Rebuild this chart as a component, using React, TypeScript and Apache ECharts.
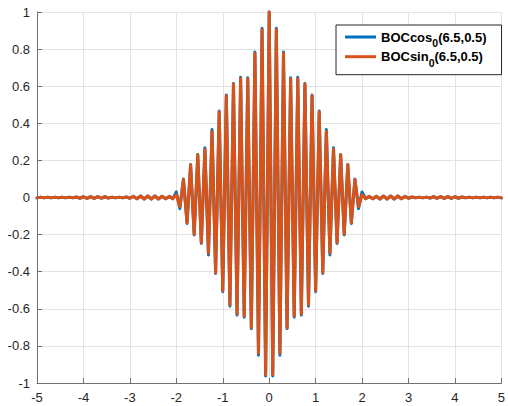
import React, { useEffect, useRef } from "react";
import * as echarts from "echarts";

// x (lag, chips) and y (normalised correlation) tick values
const xTickMin = -5;
const xTickMax = 5;
const xTickStep = 1;
const yTickMin = -1;
const yTickMax = 1;
const yTickStep = 0.2;

// spacing between successive extrema of the correlation (half a sub-carrier period)
const halfPeriod = 1 / 13;

// extrema of the main lobe, from lag 0 outward (peak, trough, peak, ...)
const cosMain = [
  1.0, -0.962, 0.912, -0.85, 0.785, -0.708, 0.645, -0.645, 0.648, -0.634,
  0.614, -0.586, 0.552, -0.508, 0.466, -0.41, 0.366, -0.31, 0.268, -0.248,
  0.232, -0.202, 0.178, -0.14, 0.1, -0.06, 0.03,
];
const sinMain = [
  1.0, -0.955, 0.905, -0.84, 0.778, -0.703, 0.64, -0.64, 0.642, -0.628,
  0.612, -0.58, 0.548, -0.503, 0.462, -0.405, 0.357, -0.3, 0.262, -0.244,
  0.23, -0.198, 0.176, -0.135, 0.097, -0.05, 0.015,
];
// small side ripples outside |lag| > 2, continuing outward to lag 5
const tailRipple = [
  -0.006, 0.006, -0.007, 0.007, -0.008, 0.008, -0.008, 0.008, -0.008, 0.008,
  -0.007, 0.006, -0.004, 0.003, -0.002, 0.002, -0.002, 0.002, -0.003, 0.004,
  -0.004, 0.005, -0.005, 0.005, -0.005, 0.004, -0.004, 0.003, -0.002, 0.002,
  -0.002, 0.002, -0.002, 0.002, -0.002, 0.002, -0.002, 0.002, -0.002,
];

const seriesNames = ["BOCcos0(6.5,0.5)", "BOCsin0(6.5,0.5)"];
const seriesColors = ["#0072BD", "#D95319"];

function buildSymmetric(main: number[], tail: number[]): number[][] {
  const oneSided = main.concat(tail);
  const n = oneSided.length - 1;
  const pts: number[][] = [];
  for (let j = -n; j <= n; j++) {
    pts.push([j * halfPeriod, oneSided[Math.abs(j)]]);
  }
  return pts;
}

const FONT = "'Liberation Sans', Arial, Helvetica, sans-serif";

export default function App() {
  const ref = useRef<HTMLDivElement>(null);
  useEffect(() => {
    if (!ref.current) return;
    const chart = echarts.init(ref.current, undefined, { renderer: "svg" });
    const axisColor = "#707070";
    const option: any = {
      animation: false,
      backgroundColor: "#ffffff",
      grid: { left: 37, right: 3, top: 12, bottom: 23, containLabel: false },
      xAxis: {
        type: "value",
        min: xTickMin,
        max: xTickMax,
        interval: xTickStep,
        axisLine: { show: true, onZero: false, lineStyle: { color: axisColor, width: 1 } },
        axisTick: { show: true, inside: true, length: 5, lineStyle: { color: axisColor } },
        axisLabel: { color: "#262626", fontSize: 13, fontFamily: FONT, margin: 8 },
        splitLine: { show: true, lineStyle: { color: "#e3e3e3", width: 1 } },
      },
      yAxis: {
        type: "value",
        min: yTickMin,
        max: yTickMax,
        interval: yTickStep,
        axisLine: { show: true, onZero: false, lineStyle: { color: axisColor, width: 1 } },
        axisTick: { show: true, inside: true, length: 5, lineStyle: { color: axisColor } },
        axisLabel: {
          color: "#262626",
          fontSize: 13,
          fontFamily: FONT,
          margin: 7,
          formatter: (v: number) => String(Math.round(v * 10) / 10),
        },
        splitLine: { show: true, lineStyle: { color: "#e3e3e3", width: 1 } },
      },
      legend: {
        orient: "vertical",
        left: 336,
        top: 25,
        padding: [5.5, 15, 6.5, 9],
        itemGap: 1.7,
        itemWidth: 31,
        itemHeight: 3,
        icon: "rect",
        borderColor: "#262626",
        borderWidth: 1,
        backgroundColor: "#ffffff",
        data: seriesNames,
        formatter: (name: string) => {
          const i = name.indexOf("0(");
          return `{b|${name.slice(0, i)}}{s|0}{b|${name.slice(i + 1)}}`;
        },
        textStyle: {
          fontFamily: FONT,
          fontWeight: "bold",
          fontSize: 13,
          color: "#000000",
          rich: {
            b: {
              fontFamily: FONT,
              fontWeight: "bold",
              fontSize: 13,
              lineHeight: 23,
              color: "#000",
              verticalAlign: "middle",
            },
            s: {
              fontFamily: FONT,
              fontWeight: "bold",
              fontSize: 10.5,
              lineHeight: 10,
              color: "#000",
              verticalAlign: "bottom",
            },
          },
        },
      },
      series: seriesNames.map((name, i) => ({
        name,
        type: "line",
        data: buildSymmetric(i === 0 ? cosMain : sinMain, tailRipple),
        showSymbol: false,
        symbol: "none",
        clip: false,
        color: seriesColors[i],
        lineStyle: { color: seriesColors[i], width: 3, join: "round", cap: "round" },
        z: 2 + i,
      })),
    };
    chart.setOption(option);
    return () => chart.dispose();
  }, []);
  return (
    <div
      ref={ref}
      style={{ position: "fixed", left: 0, top: 0, width: 508, height: 406, background: "#fff" }}
    />
  );
}
